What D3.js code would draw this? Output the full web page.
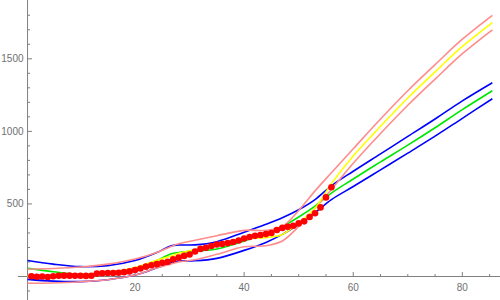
<!DOCTYPE html>
<html>
<head>
<meta charset="utf-8">
<script src="https://cdn.jsdelivr.net/npm/d3@7"></script>
<style>
  html, body { margin: 0; padding: 0; background: #fff; }
  svg { display: block; }
</style>
</head>
<body>
<div id="chart"></div>
<script>
// 観測値 (x = 1..56)
const dotY = [2, -2, 0, -4, 2, 5, 6, 6, 5, 5, 4, 5, 20, 22, 24, 24, 26, 30, 35, 45,
              55, 68, 78, 85, 95, 102, 118, 130, 142, 152, 172, 190, 198, 210, 220, 224, 230, 238, 248, 262,
              272, 280, 286, 292, 300, 320, 335, 343, 350, 366, 380, 410, 436, 476, 545, 615];

// 曲線の読み取り点
const lineX      = [0.3, 5, 10, 15, 20, 24, 26.5, 28, 31, 35, 40, 44, 47, 50, 53, 56, 60, 65, 70, 75, 80, 85.5];
const greenY     = [56, 33, 15, 25, 58, 110, 155, 165, 175, 190, 245, 300, 345, 410, 485, 575, 672, 790, 905, 1025, 1150, 1280];
const blueUpperY = [110, 85, 68, 75, 110, 165, 210, 217, 218, 240, 305, 360, 405, 460, 530, 625, 725, 845, 965, 1085, 1210, 1335];
const blueLowerY = [-20, -32, -35, -22, 10, 60, 95, 107, 108, 125, 180, 235, 290, 360, 440, 530, 620, 735, 850, 967, 1090, 1225];
const yellowY    = [2, 5, 14, 28, 62, 112, 140, 160, 185, 217, 260, 268, 290, 370, 470, 640, 830, 1035, 1230, 1410, 1585, 1750];
const pinkUpperY = [50, 55, 65, 85, 120, 165, 205, 225, 250, 281, 318, 318, 345, 455, 590, 715, 880, 1085, 1280, 1460, 1635, 1800];
const pinkLowerY = [-47, -45, -36, -22, 10, 60, 85, 100, 115, 153, 205, 212, 245, 345, 470, 600, 780, 985, 1180, 1360, 1535, 1700];

// 目盛り
const xMajor = [20, 40, 60, 80];
const xMinor = [5, 10, 15, 25, 30, 35, 45, 50, 55, 65, 70, 75, 85];
const yMajor = [500, 1000, 1500];
const yMinor = [-100, 100, 200, 300, 400, 600, 700, 800, 900, 1100, 1200, 1300, 1400, 1600, 1700, 1800];

const width = 500, height = 300;

const x = d3.scaleLinear().domain([-1.45, 86.9]).range([18, 500]);
const y = d3.scaleLinear().domain([0, 1500]).range([276.5, 58.8]);
const axisX = 0.3; // y軸の位置

const svg = d3.select('#chart').append('svg')
    .attr('width', width)
    .attr('height', height);

const axisColor = '#7f7f7f';
const labelColor = '#707070';

// 軸
svg.append('line')
    .attr('x1', x.range()[0]).attr('x2', x.range()[1])
    .attr('y1', y(0)).attr('y2', y(0))
    .attr('stroke', axisColor).attr('stroke-width', 1);

svg.append('line')
    .attr('x1', x(axisX)).attr('x2', x(axisX))
    .attr('y1', 0).attr('y2', height)
    .attr('stroke', axisColor).attr('stroke-width', 1);

// x目盛り
svg.append('g').selectAll('line')
    .data(xMajor.map(v => ({ v, len: 4.5 })).concat(xMinor.map(v => ({ v, len: 2.5 }))))
    .enter().append('line')
    .attr('x1', d => x(d.v)).attr('x2', d => x(d.v))
    .attr('y1', y(0)).attr('y2', d => y(0) - d.len)
    .attr('stroke', axisColor);

svg.append('g').selectAll('text')
    .data(xMajor)
    .enter().append('text')
    .attr('x', d => x(d))
    .attr('y', y(0) + 14)
    .attr('text-anchor', 'middle')
    .attr('font-family', '"Liberation Sans", Arial, sans-serif')
    .attr('font-size', 10)
    .attr('fill', labelColor)
    .text(d => d);

// y目盛り
svg.append('g').selectAll('line')
    .data(yMajor.map(v => ({ v, len: 4.5 })).concat(yMinor.map(v => ({ v, len: 2.5 }))))
    .enter().append('line')
    .attr('x1', x(axisX)).attr('x2', d => x(axisX) + d.len)
    .attr('y1', d => y(d.v)).attr('y2', d => y(d.v))
    .attr('stroke', axisColor);

svg.append('g').selectAll('text')
    .data(yMajor)
    .enter().append('text')
    .attr('x', x(axisX) - 4)
    .attr('y', d => y(d))
    .attr('dy', '0.35em')
    .attr('text-anchor', 'end')
    .attr('font-family', '"Liberation Sans", Arial, sans-serif')
    .attr('font-size', 10)
    .attr('fill', labelColor)
    .text(d => d);

// 曲線
const line = d3.line()
    .x(d => x(d[0]))
    .y(d => y(d[1]))
    .curve(d3.curveCatmullRom.alpha(0.5));

const series = [
    { ys: blueUpperY, color: '#0000ff' },
    { ys: blueLowerY, color: '#0000ff' },
    { ys: greenY, color: '#00e600' },
    { ys: pinkUpperY, color: '#ff8c8c' },
    { ys: pinkLowerY, color: '#ff8c8c' },
    { ys: yellowY, color: '#ffff00' }
];

svg.append('g').selectAll('path')
    .data(series)
    .enter().append('path')
    .attr('d', s => line(lineX.map((v, i) => [v, s.ys[i]])))
    .attr('fill', 'none')
    .attr('stroke', s => s.color)
    .attr('stroke-width', 1.6);

// 点
svg.append('g').selectAll('circle')
    .data(dotY)
    .enter().append('circle')
    .attr('cx', (d, i) => x(i + 1))
    .attr('cy', d => y(d))
    .attr('r', 3.3)
    .attr('fill', '#ff0000');
</script>
</body>
</html>
